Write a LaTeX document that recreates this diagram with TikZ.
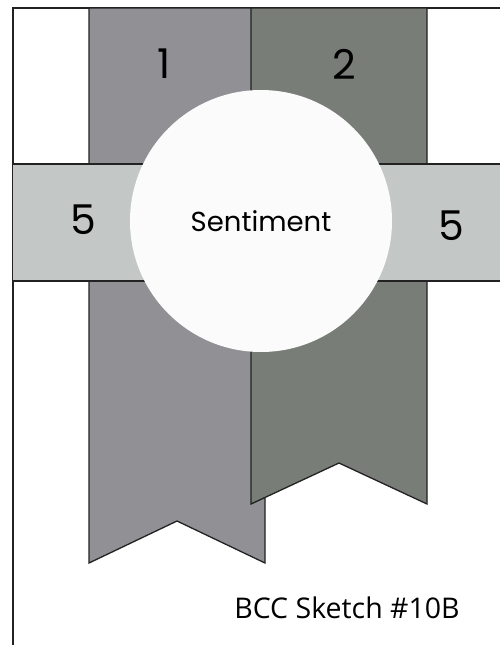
\documentclass[tikz,border=0pt]{standalone}
\usepackage{fontspec}
\setmainfont{Poppins}
\newfontfamily\labelfont{Open Sans}
\definecolor{ribA}{HTML}{919095}
\definecolor{ribB}{HTML}{797D77}
\definecolor{bandc}{HTML}{C3C8C7}
\definecolor{circc}{HTML}{FBFBFB}
\definecolor{edge}{HTML}{222222}
\begin{document}
\begin{tikzpicture}[x=1pt,y=-1pt,
  outl/.style={draw=edge,line width=1.3pt,line join=miter},
  num/.style={font=\fontsize{41}{41}\selectfont,text=black,inner sep=0pt},
  ]
\useasboundingbox (0,0) rectangle (500,645);
\fill[white] (0,0) rectangle (500,645);
% frame
\draw[outl] (500,8) -- (13,8) -- (13,645);
% ribbon 1
\draw[outl,fill=ribA] (89,8) -- (265,8) -- (265,563) -- (177,521) -- (89,563) -- cycle;
% ribbon 2
\draw[outl,fill=ribB] (251,8) -- (427,8) -- (427,504) -- (339,463) -- (251,504) -- cycle;
% band
\fill[bandc] (13,164) rectangle (500,281);
\draw[outl] (13,164) -- (500,164);
\draw[outl] (13,281) -- (500,281);
% circle
\node[circle,fill=circc,minimum size=262pt,inner sep=0pt] (sent) at (261,221) {};
\node[font=\fontsize{27.5}{27.5}\selectfont] (senttext) at (sent.center) {Sentiment};
\node[num] (n1) at (164,64) {1};
\node[num] (n2) at (344,64) {2};
\node[num] (n5a) at (83,220) {5};
\node[num] (n5b) at (451,226) {5};
\node[font=\labelfont\fontsize{28.5}{28.5}\selectfont,inner sep=0pt] (caption) at (347,608) {BCC Sketch \#10B};
\end{tikzpicture}
\end{document}
